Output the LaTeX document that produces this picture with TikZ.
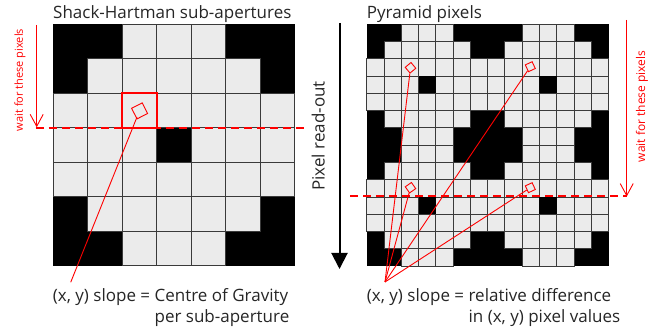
\documentclass[tikz,border=0pt]{standalone}
\usepackage{fontspec}
\setmainfont{Open Sans}
\usetikzlibrary{arrows.meta}
\definecolor{cellgray}{HTML}{EBEBEB}
\definecolor{celledge}{HTML}{3A3A3A}
\definecolor{txt}{HTML}{262626}
\definecolor{myred}{HTML}{FF0000}
\tikzset{
  cellbox/.style={fill=cellgray,draw=celledge,line width=1pt},
  redline/.style={draw=myred,line width=0.9pt},
  reddash/.style={draw=myred,line width=1.6pt,dash pattern=on 8pt off 5pt},
  waitarrow/.style={draw=myred,line width=0.9pt,-{Straight Barb[length=12pt,width=13pt]}},
  spot/.style={draw=myred,line width=0.9pt,rectangle,inner sep=0pt},
  waittext/.style={text=myred,rotate=90,inner sep=0pt},
  titletext/.style={text=txt,font=\fontsize{17}{20}\selectfont,inner sep=0pt,anchor=base west},
  captext/.style={text=txt,font=\fontsize{17}{21}\selectfont,inner sep=0pt,anchor=north west}
}
\begin{document}
\begin{tikzpicture}[x=1pt,y=-1pt]
\useasboundingbox (0,0) rectangle (660,336);
% ---------- left grid ----------
\def\gax{53.3}\def\gay{24.3}\def\gac{34.5}
\fill[black] (\gax,\gay) rectangle ++(241.5,241.5);
\foreach \r/\a/\b in {0/2/4,1/1/5,2/0/6,3/0/6,4/0/6,5/1/5,6/2/4}
  \foreach \c in {\a,...,\b}
    \draw[cellbox] ({\gax+\c*\gac},{\gay+\r*\gac}) rectangle ++(\gac,\gac);
\fill[black] ({\gax+3*\gac},{\gay+3*\gac}) rectangle ++(\gac,\gac);
% ---------- right grid ----------
\def\gbx{366.7}\def\gby{24.3}\def\gbc{17.27}
\fill[black] (\gbx,\gby) rectangle ++(241.8,241.8);
\foreach \qx in {0,1}
 \foreach \qy in {0,1}{
  \foreach \r/\a/\b in {0/2/4,1/1/5,2/0/6,3/0/6,4/0/6,5/1/5,6/2/4}
   \foreach \c in {\a,...,\b}
    \draw[cellbox,line width=0.9pt] ({\gbx+(\qx*7+\c)*\gbc},{\gby+(\qy*7+\r)*\gbc}) rectangle ++(\gbc,\gbc);
  \fill[black] ({\gbx+(\qx*7+3)*\gbc},{\gby+(\qy*7+3)*\gbc}) rectangle ++(\gbc,\gbc);
 }
% ---------- left dashed read-out line ----------
\coordinate (ld1) at (35.5,128);
\coordinate (ld2) at (307,128);
\draw[reddash] (ld1) -- (ld2);
% ---------- titles ----------
\node[titletext] (t1) at (53,19) {Shack-Hartman sub-apertures};
\node[titletext] (t2) at (366.7,19) {Pyramid pixels};
% ---------- read-out arrow ----------
\coordinate (ra) at (339.5,23);
\coordinate (rb) at (339.5,269);
\draw[line width=2pt,-{Triangle[length=16pt,width=16pt]}] (ra) -- (rb);
\node[text=txt,font=\fontsize{17}{20}\selectfont,rotate=90,inner sep=0pt] (ro) at (318.3,136) {Pixel read-out};
% ---------- right red marks ----------
\node[spot,minimum size=7.5pt,rotate=40] (p1) at (410.5,67.8) {};
\node[spot,minimum size=7.5pt,rotate=25] (p2) at (530.3,66.7) {};
\node[spot,minimum size=7.5pt,rotate=35] (p3) at (410.5,187.7) {};
\node[spot,minimum size=7.5pt,rotate=25] (p4) at (530.3,187.7) {};
\coordinate (cr) at (385,282);
\foreach \p in {p1,p2,p3,p4} \draw[redline] (\p) -- (cr);
\coordinate (wr1) at (626.7,20);
\coordinate (wr2) at (626.7,196.5);
\draw[waitarrow] (wr1) -- (wr2);
\coordinate (hr1) at (350,196);
\coordinate (hr2) at (626.7,196);
\draw[reddash] (hr1) -- (hr2);
\node[waittext,font=\fontsize{12}{14}\selectfont] (wtr) at (642,106.5) {wait for these pixels};
% ---------- captions ----------
\node[captext] (cap1) at (52.7,287) {\begin{tabular}{@{}r@{\ }l@{}}(x, y) slope = & Centre of Gravity\\ & per sub-aperture\end{tabular}};
\node[captext] (cap2) at (366.7,287) {\begin{tabular}{@{}r@{\ }l@{}}(x, y) slope = & relative difference\\ & in (x, y) pixel values\end{tabular}};
% ---------- left red marks ----------
\node[draw=myred,line width=1.8pt,rectangle,minimum size=34.5pt,inner sep=0pt] (hl) at (139.55,110.55) {};
\node[spot,minimum size=11.9pt,rotate=27] (sl) at (139.6,110.9) {};
\coordinate (cl) at (70.7,282.3);
\coordinate (sls) at (137,117);
\draw[redline] (sls) -- (cl);
\coordinate (wl1) at (36.7,25);
\coordinate (wl2) at (36.7,127.3);
\draw[waitarrow] (wl1) -- (wl2);
\node[waittext,font=\fontsize{11}{13}\selectfont] (wtl) at (20,80) {wait for these pixels};
\end{tikzpicture}
\end{document}
